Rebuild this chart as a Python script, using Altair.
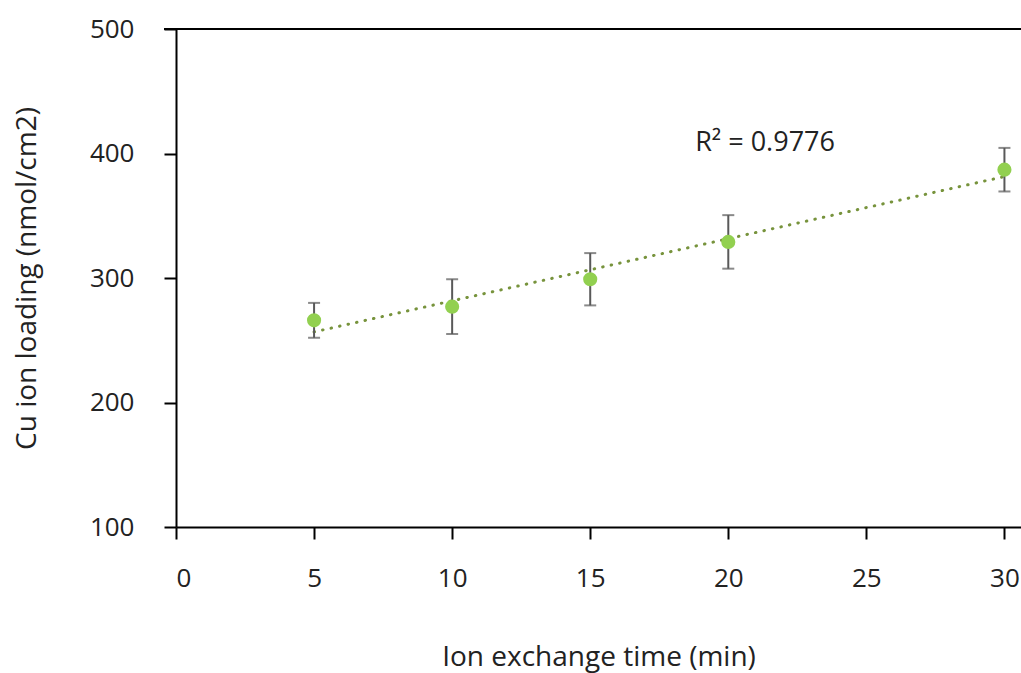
import altair as alt
import pandas as pd

times = [5, 10, 15, 20, 30]
loading = [266, 277, 299, 329, 387]
err = [14, 22, 21, 21.5, 17.5]

df = pd.DataFrame({
    "t": times,
    "y": loading,
    "lo": [v - e for v, e in zip(loading, err)],
    "hi": [v + e for v, e in zip(loading, err)],
})

r2_label = ["R² = 0.9776"]
r2_pos = pd.DataFrame({"x": [18.8], "y": [408.5], "label": r2_label})

FONT = "Open Sans"
xscale = alt.Scale(domain=[0, 30.6], nice=False, zero=False)
yscale = alt.Scale(domain=[100, 500], nice=False, zero=False)

base = alt.Chart(df)

xaxis = alt.Axis(
    title="Ion exchange time (min)", values=[0, 5, 10, 15, 20, 25, 30],
    grid=False, domainColor="black", domainWidth=2, tickColor="black",
    tickWidth=2, tickSize=12, labelFont=FONT, labelFontSize=26,
    labelColor="#222222", labelPadding=26, titleFont=FONT, titleFontSize=28,
    titleFontWeight="normal", titleColor="#222222", titlePadding=52,
)
yaxis = alt.Axis(
    title="Cu ion loading (nmol/cm2)", values=[100, 200, 300, 400, 500],
    grid=False, domainColor="black", domainWidth=2, tickColor="black",
    tickWidth=2, tickSize=12, labelFont=FONT, labelFontSize=26,
    labelColor="#222222", labelPadding=30, titleFont=FONT, titleFontSize=28,
    titleFontWeight="normal", titleColor="#222222", titlePadding=48,
)

trend = base.transform_regression("t", "y", extent=[5, 30]).mark_line(
    color="#77933c", strokeWidth=3, strokeDash=[0.5, 8.2], strokeCap="round"
).encode(
    x=alt.X("t:Q", scale=xscale, axis=xaxis),
    y=alt.Y("y:Q", scale=yscale, axis=yaxis),
)

bars = base.mark_rule(color="#595959", strokeWidth=2).encode(
    x=alt.X("t:Q", scale=xscale), y=alt.Y("lo:Q", scale=yscale), y2="hi:Q"
)
cap_lo = base.mark_tick(color="#595959", orient="horizontal", size=12, thickness=2).encode(
    x=alt.X("t:Q", scale=xscale), y=alt.Y("lo:Q", scale=yscale)
)
cap_hi = base.mark_tick(color="#595959", orient="horizontal", size=12, thickness=2).encode(
    x=alt.X("t:Q", scale=xscale), y=alt.Y("hi:Q", scale=yscale)
)
points = base.mark_circle(color="#92d050", opacity=1, size=200).encode(
    x=alt.X("t:Q", scale=xscale), y=alt.Y("y:Q", scale=yscale)
)
toprule = alt.Chart(pd.DataFrame({"y": [500]})).mark_rule(color="black", strokeWidth=2).encode(
    y=alt.Y("y:Q", scale=yscale), x=alt.value(-12), x2=alt.value(845)
)
r2 = alt.Chart(r2_pos).mark_text(
    align="left", baseline="middle", font=FONT, fontSize=27, color="#222222"
).encode(x=alt.X("x:Q", scale=xscale), y=alt.Y("y:Q", scale=yscale), text="label:N")

chart = alt.layer(toprule, trend, bars, cap_lo, cap_hi, points, r2).properties(
    width=845, height=498,
    autosize=alt.AutoSizeParams(type="none"),
    padding={"left": 176, "top": 29, "right": 0, "bottom": 146},
    background="white",
).configure_view(stroke=None)

chart.save("out.html", embed_options={"renderer": "svg", "actions": False})
